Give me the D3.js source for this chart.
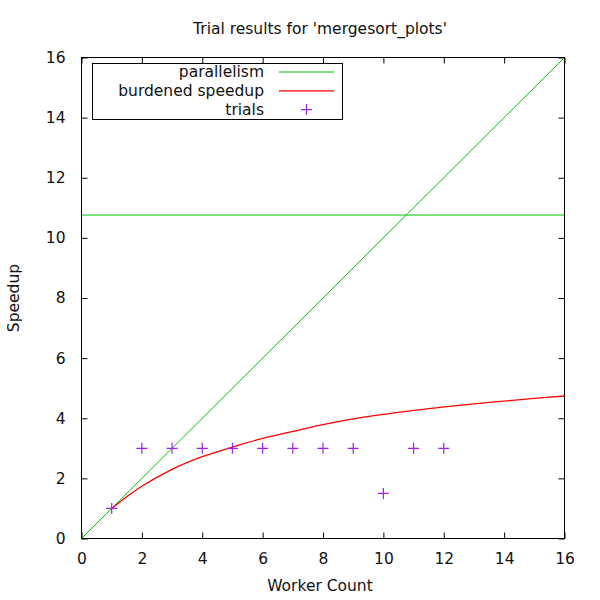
<!DOCTYPE html>
<html>
  <head>
    <meta charset="UTF-8" />
    <title>Trial results for 'mergesort_plots'</title>
    <script src="https://d3js.org/d3.v7.min.js"></script>
    <style>
      * {
        margin: 0;
        padding: 0;
      }
      body {
        background-color: #ffffff;
      }
      svg {
        display: block;
      }
      text {
        font-family: "DejaVu Sans", sans-serif;
        font-size: 15.5px;
        fill: #111111;
      }
      .tick line {
        stroke: #000000;
      }
    </style>
  </head>
  <body>
    <svg id="chart" width="600" height="600"></svg>
  </body>
  <script>
    // values
    const tickValues = [0, 2, 4, 6, 8, 10, 12, 14, 16];
    const idealX = [0, 16];
    const parallelism = 10.76;
    const burdenedX = [1, 1.5, 2, 3, 4, 5, 6, 7, 8, 9, 10, 11, 12, 13, 14, 15, 16];
    const burdenedY = [1, 1.39, 1.74, 2.3, 2.72, 3.04, 3.33, 3.56, 3.79, 3.98, 4.13, 4.26, 4.38, 4.48, 4.57, 4.66, 4.74];
    const trialsX = [1, 2, 3, 4, 5, 6, 7, 8, 9, 10, 11, 12];
    const trialsY = [1, 3, 3, 3, 3, 3, 3, 3, 3, 1.5, 3, 3];
    const legendNames = ["parallelism", "burdened speedup", "trials"];

    const green = "#00c000";
    const red = "#ff0000";
    const purple = "#a020f0";

    const plotLeft = 81.5, plotRight = 564.5, plotTop = 57.5, plotBottom = 538.5;
    const svg = d3.select("#chart");

    const x = d3.scaleLinear().domain([0, 16]).range([plotLeft, plotRight]);
    const y = d3.scaleLinear().domain([0, 16]).range([plotBottom, plotTop]);

    // title
    svg.append("text")
      .attr("x", 320)
      .attr("y", 34)
      .attr("text-anchor", "middle")
      .text("Trial results for 'mergesort_plots'");

    // axes, ticks pointing inwards on all four sides
    svg.append("g")
      .attr("transform", `translate(0,${plotBottom})`)
      .call(d3.axisBottom(x).tickValues(tickValues).tickSize(-6).tickPadding(14))
      .call((g) => g.select(".domain").remove());
    svg.append("g")
      .attr("transform", `translate(0,${plotTop})`)
      .call(d3.axisTop(x).tickValues(tickValues).tickSize(-6).tickFormat(""))
      .call((g) => g.select(".domain").remove());
    svg.append("g")
      .attr("transform", `translate(${plotLeft},0)`)
      .call(d3.axisLeft(y).tickValues(tickValues).tickSize(-6).tickPadding(16))
      .call((g) => g.select(".domain").remove());
    svg.append("g")
      .attr("transform", `translate(${plotRight},0)`)
      .call(d3.axisRight(y).tickValues(tickValues).tickSize(-6).tickFormat(""))
      .call((g) => g.select(".domain").remove());
    svg.selectAll(".tick text")
      .attr("font-family", "DejaVu Sans")
      .attr("font-size", "15.5px")
      .attr("fill", "#111");

    // axis labels
    svg.append("text")
      .attr("x", 320)
      .attr("y", 591)
      .attr("text-anchor", "middle")
      .text("Worker Count");
    svg.append("text")
      .attr("transform", `translate(19,${(plotTop + plotBottom) / 2}) rotate(-90)`)
      .attr("text-anchor", "middle")
      .text("Speedup");

    // ideal linear speedup
    svg.append("line")
      .attr("x1", x(idealX[0]))
      .attr("y1", y(idealX[0]))
      .attr("x2", x(idealX[1]))
      .attr("y2", y(idealX[1]))
      .attr("stroke", green)
      .attr("stroke-width", 1);

    // parallelism level
    svg.append("line")
      .attr("x1", x(0))
      .attr("x2", x(16))
      .attr("y1", y(parallelism))
      .attr("y2", y(parallelism))
      .attr("stroke", green)
      .attr("stroke-width", 1);

    // burdened speedup curve
    const line = d3.line()
      .x((d, i) => x(burdenedX[i]))
      .y((d) => y(d))
      .curve(d3.curveCatmullRom);
    svg.append("path")
      .attr("d", line(burdenedY))
      .attr("fill", "none")
      .attr("stroke", red)
      .attr("stroke-width", 1.3);

    // trials
    const plus = (g, cx, cy) => {
      g.append("path")
        .attr("d", `M${cx - 5.5},${cy}H${cx + 5.5}M${cx},${cy - 5.5}V${cy + 5.5}`)
        .attr("stroke", purple)
        .attr("stroke-width", 1.2)
        .attr("fill", "none");
    };
    const trials = svg.append("g");
    trialsX.forEach((t, i) => plus(trials, x(t), y(trialsY[i])));

    // frame
    svg.append("rect")
      .attr("x", plotLeft)
      .attr("y", plotTop)
      .attr("width", plotRight - plotLeft)
      .attr("height", plotBottom - plotTop)
      .attr("fill", "none")
      .attr("stroke", "#000")
      .attr("stroke-width", 1);

    // legend
    const legend = svg.append("g");
    legend.append("rect")
      .attr("x", 92.5)
      .attr("y", 63.5)
      .attr("width", 250)
      .attr("height", 56)
      .attr("fill", "#fff")
      .attr("stroke", "#000")
      .attr("stroke-width", 1);
    const legendColors = [green, red, purple];
    legendNames.forEach((name, i) => {
      const ly = 72 + i * 18.8;
      legend.append("text")
        .attr("x", 264)
        .attr("y", ly)
        .attr("dy", "0.35em")
        .attr("text-anchor", "end")
        .text(name);
      if (i < 2) {
        legend.append("line")
          .attr("x1", 279)
          .attr("x2", 334)
          .attr("y1", ly)
          .attr("y2", ly)
          .attr("stroke", legendColors[i])
          .attr("stroke-width", i === 1 ? 1.3 : 1);
      } else {
        plus(legend, 306.5, ly);
      }
    });
  </script>
</html>
